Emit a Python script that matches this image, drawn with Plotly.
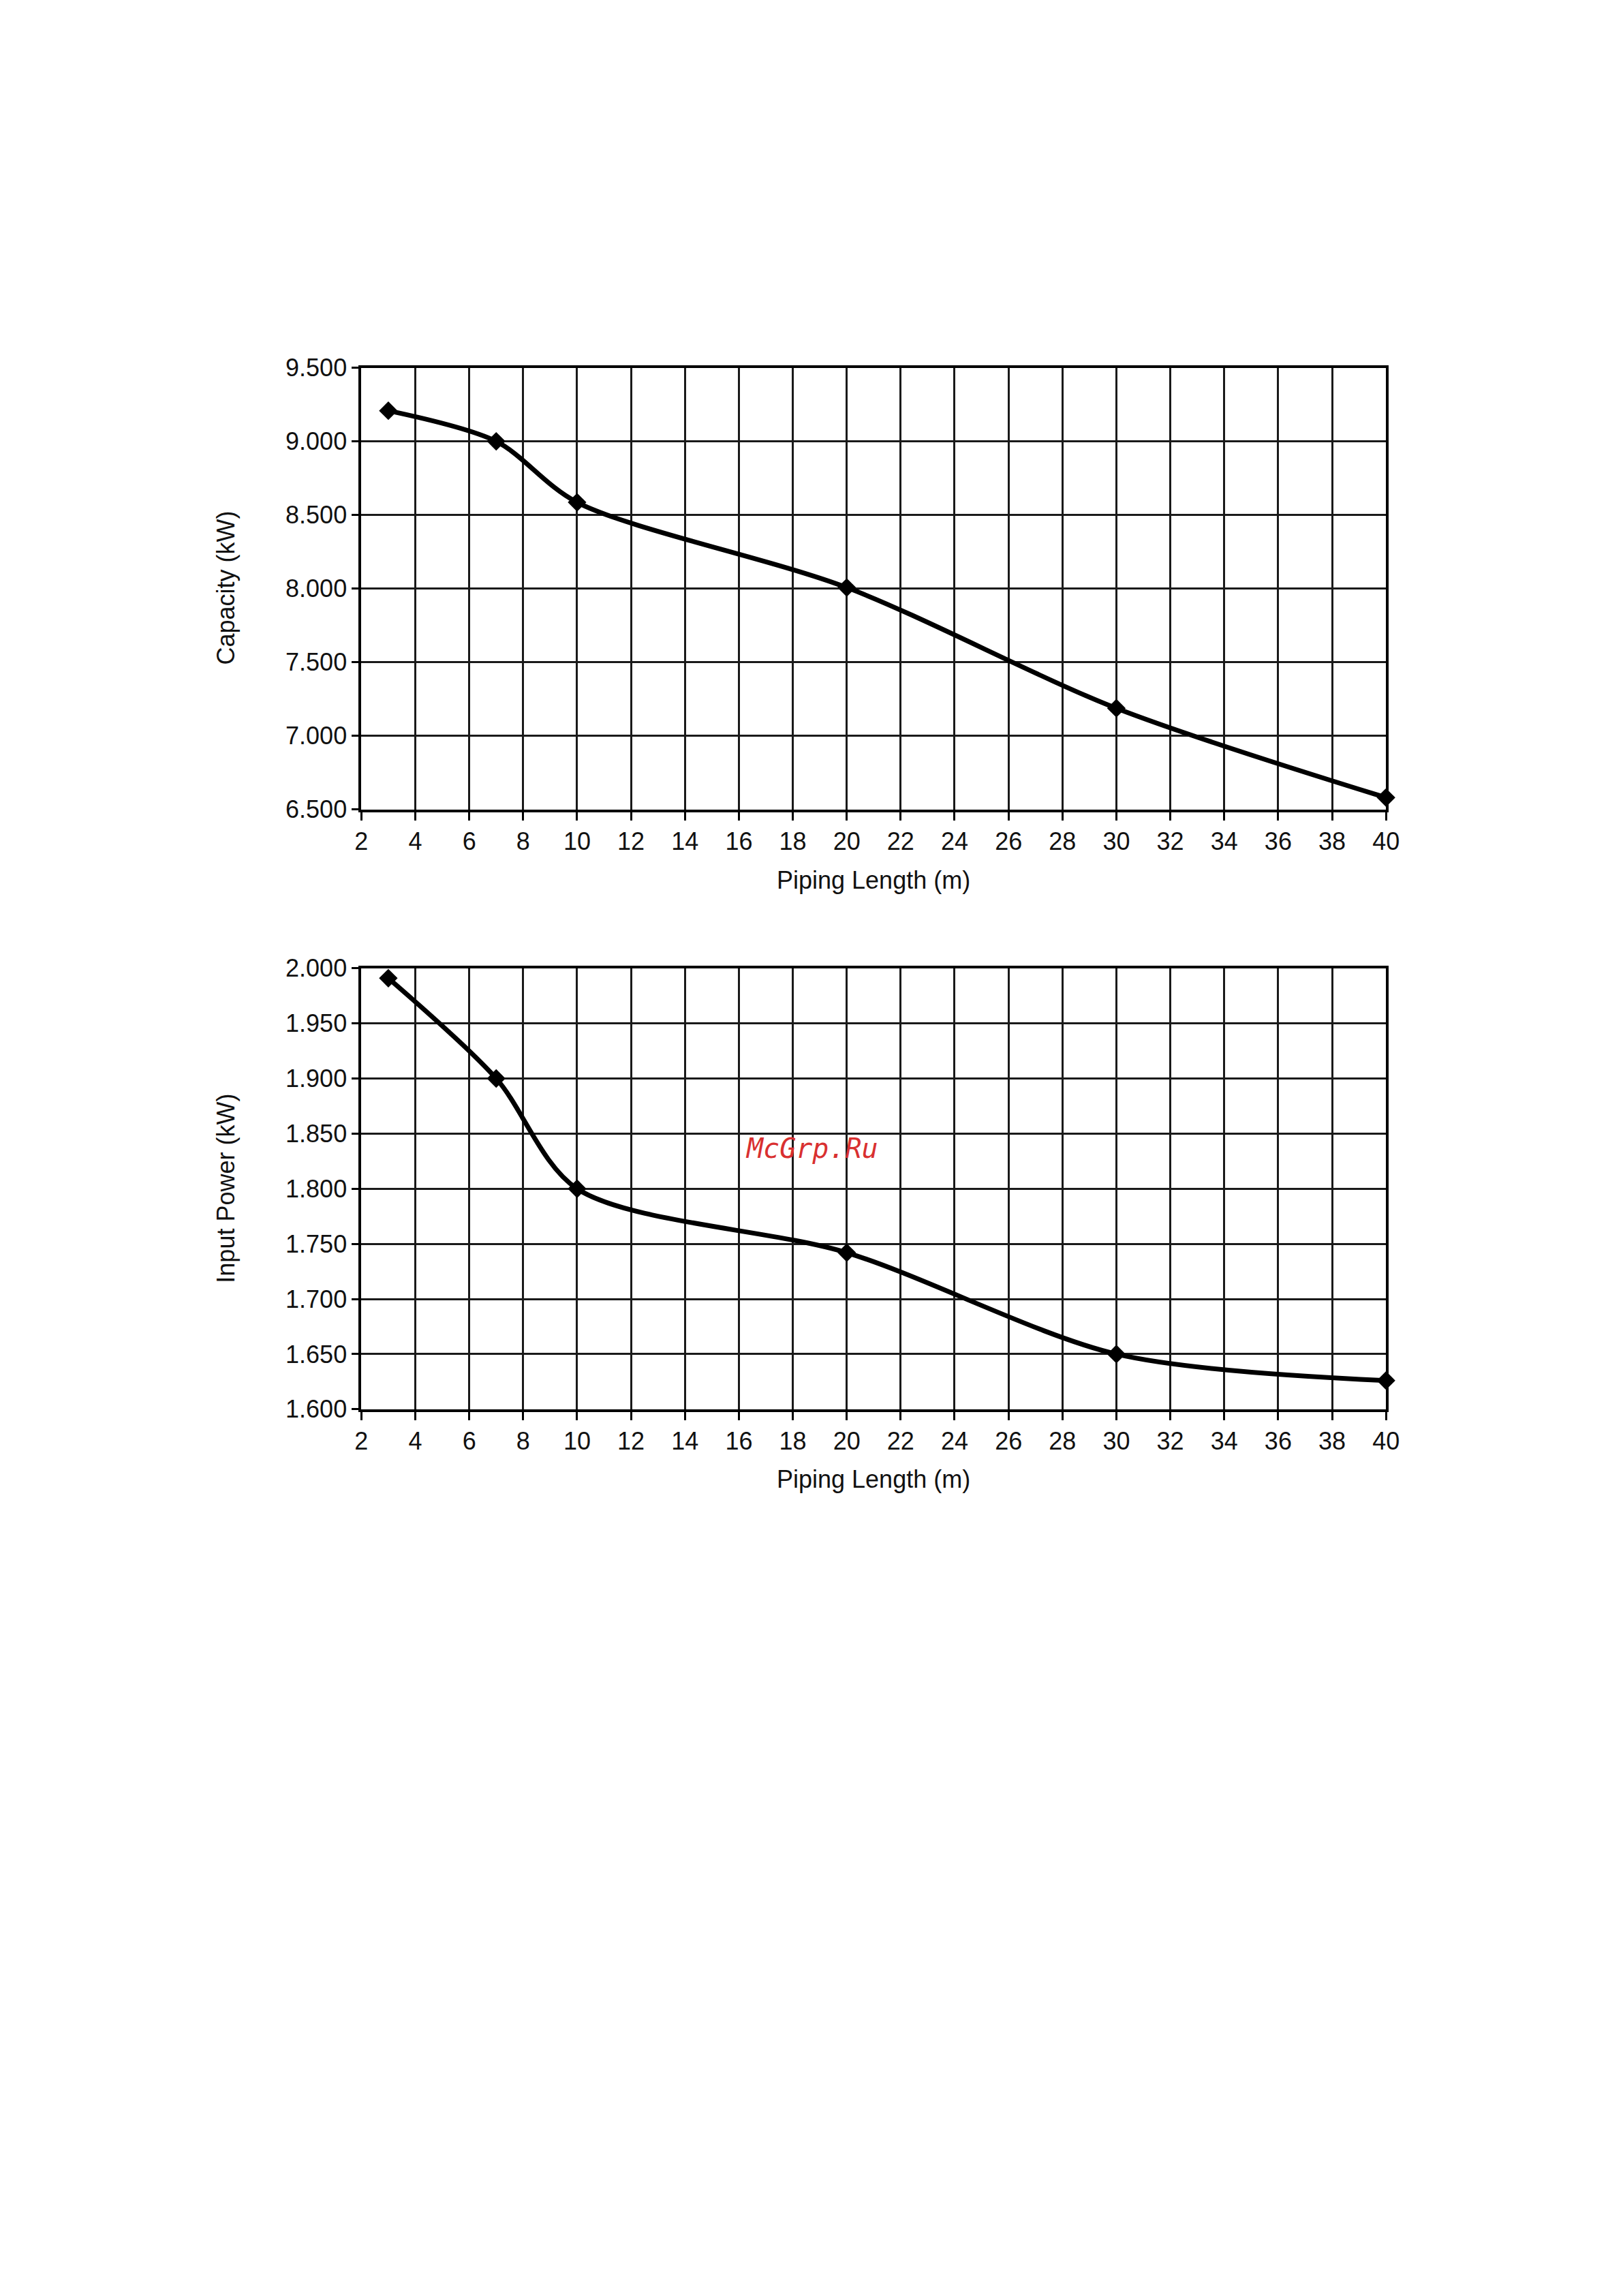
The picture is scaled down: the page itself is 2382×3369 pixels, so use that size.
import plotly.graph_objects as go

# Data
piping_length = [3, 7, 10, 20, 30, 40]
capacity_kw = [9.208, 9.000, 8.586, 8.007, 7.187, 6.580]
input_power_kw = [1.991, 1.900, 1.800, 1.742, 1.650, 1.626]

x_ticks = list(range(2, 41, 2))
cap_ticks = [6.5, 7.0, 7.5, 8.0, 8.5, 9.0, 9.5]
pow_ticks = [1.60, 1.65, 1.70, 1.75, 1.80, 1.85, 1.90, 1.95, 2.00]

W, H = 2382, 3369
FONT = "Liberation Sans, Arial, Helvetica, sans-serif"
TXT = "#111111"

def px_x(p):
    return p / W

def px_y(p):
    return 1 - p / H

fig = go.Figure()

line_style = dict(color="black", width=7, shape="spline", smoothing=0.85)
marker_style = dict(symbol="diamond", size=21, color="black")

fig.add_trace(go.Scatter(x=piping_length, y=capacity_kw, mode="lines+markers",
                         line=line_style, marker=marker_style, cliponaxis=False,
                         xaxis="x", yaxis="y", showlegend=False))
fig.add_trace(go.Scatter(x=piping_length, y=input_power_kw, mode="lines+markers",
                         line=line_style, marker=marker_style, cliponaxis=False,
                         xaxis="x2", yaxis="y2", showlegend=False))

xdom = [px_x(527), px_x(2050)]
common_x = dict(range=[2, 40], tickmode="array", tickvals=x_ticks,
                ticks="outside", ticklen=12, tickwidth=2.5, tickcolor="black",
                showgrid=True, gridcolor="#1a1a1a", gridwidth=2.6,
                showline=True, linecolor="black", linewidth=4, mirror=True,
                zeroline=False, tickfont=dict(family=FONT, size=36, color=TXT),
                domain=xdom, fixedrange=True)
common_y = dict(ticks="outside", ticklen=10, tickwidth=2.5, tickcolor="black",
                showgrid=True, gridcolor="#1a1a1a", gridwidth=2.6,
                showline=True, linecolor="black", linewidth=4, mirror=True,
                zeroline=False, tickfont=dict(family=FONT, size=36, color=TXT),
                tickformat=".3f", tickmode="array", fixedrange=True)

fig.update_layout(
    width=W, height=H,
    margin=dict(l=0, r=0, t=0, b=0),
    paper_bgcolor="white", plot_bgcolor="white",
    xaxis=dict(**common_x, anchor="y"),
    yaxis=dict(**common_y, range=[6.5, 9.5], tickvals=cap_ticks,
               domain=[px_y(1182), px_y(526)], anchor="x"),
    xaxis2=dict(**common_x, anchor="y2"),
    yaxis2=dict(**common_y, range=[1.6, 2.0], tickvals=pow_ticks,
                domain=[px_y(2073), px_y(1418)], anchor="x2"),
)

annotations = [
    dict(text="Capacity (kW)", x=px_x(326), y=px_y(853), textangle=-90),
    dict(text="Piping Length (m)", x=px_x(1288), y=px_y(1287)),
    dict(text="Input Power (kW)", x=px_x(326), y=px_y(1745), textangle=-90),
    dict(text="Piping Length (m)", x=px_x(1288), y=px_y(2177)),
]
for a in annotations:
    fig.add_annotation(xref="paper", yref="paper", showarrow=False,
                       xanchor="center", yanchor="middle",
                       font=dict(family=FONT, size=36, color=TXT), **a)

fig.add_annotation(xref="paper", yref="paper", showarrow=False,
                   x=px_x(1197), y=px_y(1686), xanchor="center", yanchor="middle",
                   text="<i>McGrp.Ru</i>",
                   font=dict(family="DejaVu Sans Mono, monospace", size=40, color="#d93030"))

fig.write_html("out.html", config={"displayModeBar": False},
               post_script="document.body.style.margin='0';document.body.style.overflow='hidden';")
